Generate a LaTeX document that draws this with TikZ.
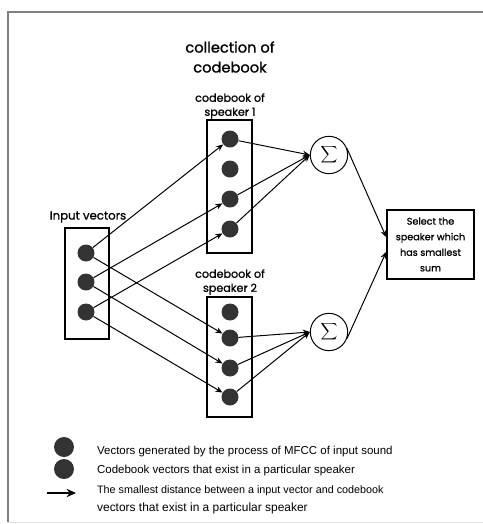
\documentclass[tikz,border=0pt]{standalone}
\usepackage{fontspec}
\setmainfont{Liberation Sans}
\newfontfamily\gothic[FakeBold=1]{Poppins}
\usetikzlibrary{arrows.meta,positioning}

\tikzset{
  vdot/.style={circle, fill=black!80, minimum size=0.51cm, inner sep=0pt},
  keydot/.style={vdot, minimum size=0.6cm},
  vbox/.style={draw, line width=1.3pt, inner sep=0pt},
  link/.style={-{Stealth[length=6pt,width=5pt]}, line width=0.85pt},
  lbl/.style={font=\gothic\fontsize{9.5}{12}\selectfont, align=center},
  sumnode/.style={draw, circle, line width=0.85pt, minimum size=1.12cm, inner sep=0pt},
  keytext/.style={anchor=west, font=\fontsize{9.8}{14.5}\selectfont, align=left}
}

\begin{document}
\begin{tikzpicture}[x=0.03cm, y=-0.03cm]
\useasboundingbox (0,0) rectangle (483,524);
\draw[black!50, line width=1pt] (8,522) -- (8,12) -- (483,12);
\draw[black!12] (8,522) -- (483,522);

% labels
\node[lbl, font=\gothic\fontsize{12.5}{17}\selectfont] (title) at (230,57) {collection of\\codebook};
\node[lbl] (cbAlbl) at (230,106) {codebook of\\speaker 1};
\node[lbl] (cbBlbl) at (230,282) {codebook of\\speaker 2};
\node[lbl, font=\gothic\fontsize{10}{12}\selectfont] (inlbl) at (88,217) {Input vectors};

% boxes
\node[vbox, minimum width=1.35cm, minimum height=3.99cm] (cbA) at (229.5,186.5) {};
\node[vbox, minimum width=1.35cm, minimum height=3.6cm] (cbB) at (229.5,357) {};
\node[vbox, minimum width=1.32cm, minimum height=3.33cm] (inbox) at (87,283.5) {};
\node[vbox, minimum width=2.61cm, minimum height=2.07cm, lbl, font=\gothic\fontsize{8.2}{13.3}\selectfont] (sel) at (430.5,244.5) {Select the\\speaker which\\has smallest\\sum};

% vectors
\foreach \y [count=\i] in {139,169,199,229} \node[vdot] (a\i) at (230,\y) {};
\foreach \y [count=\i] in {312,338,368,397} \node[vdot] (b\i) at (230,\y) {};
\foreach \y [count=\i] in {253,282,312} \node[vdot] (in\i) at (86,\y) {};

\node[sumnode] (sA) at (329,155) {$\displaystyle\sum$};
\node[sumnode] (sB) at (329,332) {$\displaystyle\sum$};

% connections
\draw[link] (in1) -- (a1);
\draw[link] (in2) -- (a3);
\draw[link] (in3) -- (a4);
\draw[link] (in1) -- (b2);
\draw[link] (in2) -- (b3);
\draw[link] (in3) -- (b4);
\foreach \i in {1,3,4} \draw[link] (a\i) -- (sA.west);
\foreach \i in {2,3,4} \draw[link] (b\i) -- (sB.west);
\draw[link] (sA.20) -- ([yshift=0.22cm]sel.west);
\draw[link] (sB.-20) -- ([yshift=-0.22cm]sel.west);

% legend
\node[keydot] (k1) at (64,447) {};
\node[keydot] (k2) at (64,469) {};
\coordinate (k3a) at (47,493);
\coordinate (k3b) at (76,493);
\draw[-{Stealth[length=8pt,width=7pt]}, line width=1.5pt] (k3a) -- (k3b);
\node[keytext] (t1) at (93,452) {Vectors generated by the process of MFCC of input sound};
\node[keytext] (t2) at (93,471) {Codebook vectors that exist in a particular speaker};
\node[keytext, font=\fontsize{9.2}{14.5}\selectfont] (t3) at (93,491) {The smallest distance between a input vector and codebook};
\node[keytext, font=\fontsize{10.2}{14.5}\selectfont] (t4) at (93,508) {vectors that exist in a particular speaker};
\end{tikzpicture}
\end{document}
